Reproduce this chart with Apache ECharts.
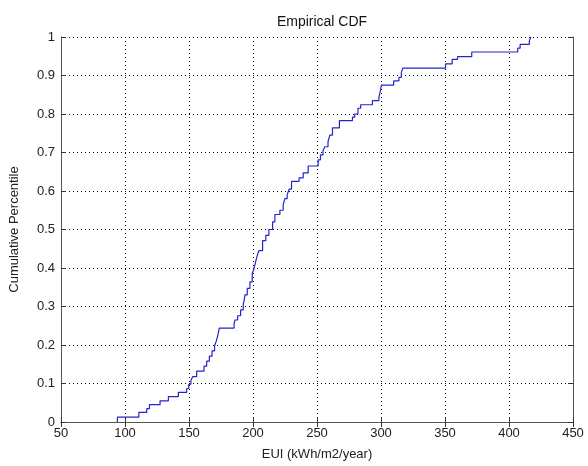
<!DOCTYPE html>
<html>
<head>
<meta charset="utf-8">
<script src="https://cdn.jsdelivr.net/npm/echarts@6/dist/echarts.min.js"></script>
<style>
  html, body { margin: 0; padding: 0; background: #fff; }
  #chart { width: 588px; height: 466px; }
</style>
</head>
<body>
<div id="chart"></div>
<script>
// step points of the empirical CDF (EUI value where the curve jumps, new level)
var euiSteps = [94, 94.1, 110.8, 117.0, 119.1, 127.4, 133.9, 141.7, 148.2, 149.8,
  151.5, 152.9, 156.0, 161.7, 163.8, 165.9, 168.0, 170.0, 171.3, 172.3,
  173.0, 173.7, 185.2, 185.9, 188.0, 190.3, 192.4, 193.2, 193.7, 195.5,
  197.6, 199.4, 200.7, 202.0, 203.3, 204.6, 207.5, 210.0, 212.4, 215.3,
  217.1, 221.0, 223.6, 224.9, 226.7, 228.2, 230.1, 236.0, 239.2, 243.1,
  250.9, 252.7, 254.7, 256.1, 258.6, 260.0, 262.1, 267.5, 277.7, 279.5,
  282.0, 284.1, 293.3, 298.4, 299.5, 300.3, 309.9, 314.0, 315.9, 317.1,
  350.4, 355.6, 359.8, 370.9, 406.8, 408.7, 415.9, 417.0];
var cdfLevels = [0, 0.0125, 0.025, 0.035, 0.045, 0.055, 0.066, 0.077, 0.087, 0.098,
  0.108, 0.118, 0.132, 0.145, 0.158, 0.171, 0.185, 0.198, 0.21, 0.222,
  0.233, 0.244, 0.254, 0.265, 0.276, 0.291, 0.306, 0.318, 0.33, 0.347,
  0.364, 0.385, 0.398, 0.415, 0.432, 0.445, 0.471, 0.485, 0.50, 0.52,
  0.539, 0.55, 0.565, 0.58, 0.59, 0.605, 0.625, 0.634, 0.647, 0.665,
  0.681, 0.694, 0.705, 0.715, 0.728, 0.745, 0.764, 0.783, 0.792, 0.80,
  0.815, 0.824, 0.835, 0.844, 0.86, 0.875, 0.886, 0.895, 0.908, 0.919,
  0.930, 0.942, 0.949, 0.961, 0.971, 0.981, 0.99, 1.0];

var chart = echarts.init(document.getElementById('chart'));

var labelFont = { color: '#222', fontSize: 13, fontFamily: 'Liberation Sans, Arial, sans-serif' };
var frameLine = { show: true, lineStyle: { color: '#555', width: 1 } };
var gridLine = { show: true, lineStyle: { color: '#000', type: [1, 3], width: 1 } };
var inTick = { show: true, inside: true, length: 5, lineStyle: { color: '#333' } };

var option = {
  backgroundColor: '#fff',
  animation: false,
  title: {
    text: 'Empirical CDF',
    left: 317,
    textAlign: 'center',
    top: 10,
    textStyle: { color: '#111', fontSize: 14, fontWeight: 'normal', fontFamily: 'Liberation Sans, Arial, sans-serif' }
  },
  grid: { left: 60, right: 15, top: 37, bottom: 40 },
  xAxis: [
    {
      type: 'value', min: 50, max: 450, interval: 50,
      name: 'EUI (kWh/m2/year)', nameLocation: 'middle', nameGap: 26,
      nameTextStyle: labelFont,
      axisLine: frameLine, axisTick: inTick, splitLine: gridLine,
      axisLabel: Object.assign({ margin: 5 }, labelFont)
    },
    {
      type: 'value', min: 50, max: 450, interval: 50, position: 'top',
      axisLine: frameLine, axisTick: inTick, splitLine: { show: false },
      axisLabel: { show: false }
    }
  ],
  yAxis: [
    {
      type: 'value', min: 0, max: 1, interval: 0.1,
      name: 'Cumulative Percentile', nameLocation: 'middle', nameGap: 40,
      nameTextStyle: labelFont,
      axisLine: frameLine, axisTick: inTick, splitLine: gridLine,
      axisLabel: Object.assign({ margin: 6 }, labelFont)
    },
    {
      type: 'value', min: 0, max: 1, interval: 0.1, position: 'right',
      axisLine: frameLine, axisTick: inTick, splitLine: { show: false },
      axisLabel: { show: false }
    }
  ],
  series: [
    {
      type: 'line',
      step: 'end',
      showSymbol: false,
      lineStyle: { color: '#2424c8', width: 1.2 },
      data: euiSteps.map(function (x, i) { return [x, cdfLevels[i]]; })
    }
  ]
};

chart.setOption(option);
</script>
</body>
</html>
